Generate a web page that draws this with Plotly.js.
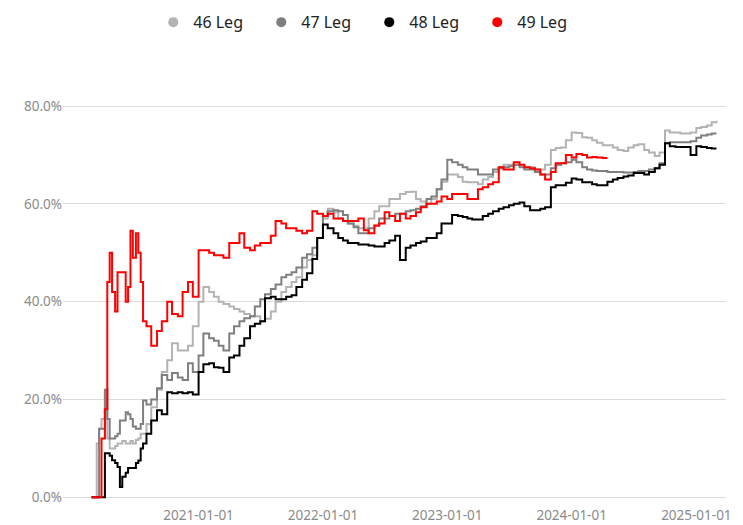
<!DOCTYPE html>
<html>
<head>
<meta charset="utf-8">
<script src="https://cdn.plot.ly/plotly-3.0.1.min.js"></script>
<style>html,body{margin:0;padding:0;background:#fff;}#chart{width:743px;height:525px;}</style>
</head>
<body>
<div id="chart"></div>
<script>
const dates = [
  "2020-02-22","2020-03-01","2020-03-08","2020-03-15","2020-03-22","2020-04-01","2020-04-08","2020-04-15","2020-04-22","2020-05-01","2020-05-08","2020-05-15","2020-05-22","2020-06-01","2020-06-08","2020-06-15","2020-06-22","2020-07-01","2020-07-08","2020-07-15","2020-07-22","2020-08-01",
  "2020-08-15","2020-09-01","2020-09-15","2020-10-01","2020-10-15","2020-11-01","2020-11-15","2020-12-01","2020-12-15",
  "2021-01-01","2021-01-15","2021-02-01","2021-02-15","2021-03-01","2021-03-15","2021-04-01","2021-04-15","2021-05-01","2021-05-15","2021-06-01","2021-06-15","2021-07-01","2021-07-15","2021-08-01","2021-08-15","2021-09-01","2021-09-15","2021-10-01","2021-10-15","2021-11-01","2021-11-15","2021-12-01","2021-12-15",
  "2022-01-01","2022-01-15","2022-02-01","2022-02-15","2022-03-01","2022-03-15","2022-04-01","2022-04-15","2022-05-01","2022-05-15","2022-06-01","2022-06-15","2022-07-01","2022-07-15","2022-08-01","2022-08-15","2022-09-01","2022-09-15","2022-10-01","2022-10-15","2022-11-01","2022-11-15","2022-12-01","2022-12-15",
  "2023-01-01","2023-01-15","2023-02-01","2023-02-15","2023-03-01","2023-03-15","2023-04-01","2023-04-15","2023-05-01","2023-05-15","2023-06-01","2023-06-15","2023-07-01","2023-07-15","2023-08-01","2023-08-15","2023-09-01","2023-09-15","2023-10-01","2023-10-15","2023-11-01","2023-11-15","2023-12-01","2023-12-15",
  "2024-01-01","2024-01-15","2024-02-01","2024-02-15","2024-03-01","2024-03-15","2024-04-01","2024-04-15","2024-05-01","2024-05-15","2024-06-01","2024-06-15","2024-07-01","2024-07-15","2024-08-01","2024-08-15","2024-09-01","2024-09-15","2024-10-01","2024-10-15","2024-11-01","2024-11-15","2024-12-01","2024-12-15",
  "2025-01-01","2025-01-15","2025-02-01","2025-02-15","2025-03-01"
];

const seriesNames = ["46 Leg","47 Leg","48 Leg","49 Leg"];
const seriesColors = ["#b3b3b3","#7f7f7f","#000000","#ff0000"];

const leg46 = [
  0,0,11,14,16,22,12,10,10,10.5,11,11,11.5,11,11,11.5,11,11.7,12,13,13,15,
  18.4,22,25.6,28,31.5,30,30,31,35,
  40,43,42,41,40,39.5,39,38.5,38,37.5,37,37,36,36.5,38,40,42,43,44,45,47,48.5,49.5,53,
  57,59,58.3,57,56.5,56,55.5,55,55,57,58.5,59.5,59.5,61,61,62,62.4,62.5,61,60.5,60,61,63,64.5,
  66,66,65.5,64.5,64.4,64.4,64,65,65.5,66.5,67.5,68,68,68,68,67.5,67.5,67,67,68,71,71.4,71.5,73,
  74.6,74.5,73.6,73.5,73,72.5,72,72,71.5,71,70.8,71.5,72,72.2,71,70.5,69.8,70.5,75,74.6,74.6,74.4,74.4,74.6,
  75.5,75.7,76,76.7,77
];
const leg47 = [
  0,0,0,14,14,22,16,12,12,12.5,13,15.7,15.7,17.4,17,16,14.5,14,14,15,19.8,19,
  20,22.3,25,24,25.4,24.5,24,27.4,25.6,
  29,33.5,32.5,32,31,30,33.5,35,36,36.6,37,39,40.5,41.5,42.6,43.5,45,45.5,46,47,49,49.7,51,53,
  57.5,58.5,58.7,58.5,57.7,56,55.2,54,54,55,55.5,57,57,57.5,58,58,58.5,58.7,59,59.5,61,61.5,63,65,
  69,68.5,68,67.5,67,67,66,66,66,67,67.3,67.5,67.7,68,67.5,67,67,66.5,66,66,67.3,68,68.3,68.5,
  69,68.5,67.5,67,66.8,66.7,66.7,66.5,66.5,66.5,66.4,66.4,66.5,66.7,66.7,67,67.3,68.3,72.4,72.6,72.6,72.6,72.6,72.8,
  73.5,74,74.2,74.4,74.4
];
const leg48 = [
  0,0,0,0,0,9,9,8.5,7.6,7,6.2,2.1,4.2,5,6,6,6,7,7.5,10,11,13,
  15.7,17.8,17,21.5,21.3,21.5,21.3,21.5,21,
  25.6,27.2,27.4,26.6,26.5,25.6,28.6,29,31,32.5,35,35.5,36,40.7,41,40.5,40.5,41,41.3,43,44.5,45.8,48.7,53,
  55.8,55,54,53,52.5,52,52,51.7,51.7,51.5,51.3,51.3,52,52.5,53.5,48.5,51,51.5,52,52.3,53,53,54,56,
  56,57.7,57.5,57.3,57,56.8,56.8,57.5,58,58.5,59,59.3,59.7,60,60.3,59.5,58.7,58.7,59,59.3,63.4,63.8,63.8,64.3,
  65.2,65,64.4,64.4,64,63.8,63.8,64.5,65,65.3,65.6,65.8,66.3,66.3,66,66.5,67.3,68,72.4,71.8,71.6,71.6,71.6,70,
  71.8,71.6,71.4,71.3,71.3
];
const leg49 = [
  0,0,0,0,12,18,44,50,42,38,46,46,46,40,43,54.5,49,54,50,44,36,35,
  31,34,36,40,37.5,37,42,44,41,
  50.5,50.5,50,49.5,49.5,49,52,52,54,51,50.5,51.5,52,52,53.5,56.5,56,55,55,54.5,54,54.5,58.5,58,
  57.5,58,57,57,56.5,56.5,56.5,57,54.6,54,55.6,56,58.3,57.5,56.5,58,57,57.5,58.3,59.3,60,60,60.5,61.5,
  61,62,62,62,61,61,63,63.4,64,64.4,67.5,67,67,68.5,68,67.5,67.3,67,66,65,66.5,68.3,68.3,70,
  69.5,70.2,70,69.5,69.6,69.5,69.4,69.4
];

const yTicks = [0,20,40,60,80];
const yTickText = ["0.0%","20.0%","40.0%","60.0%","80.0%"];
const xTicks = ["2021-01-01","2022-01-01","2023-01-01","2024-01-01","2025-01-01"];

const allValues = [leg46, leg47, leg48, leg49];
const traces = [];
allValues.forEach((vals, i) => {
  traces.push({
    type: "scatter", mode: "lines",
    x: dates.slice(0, vals.length), y: vals,
    line: {color: seriesColors[i], width: 2, shape: "hv"},
    showlegend: false, hoverinfo: "skip"
  });
});
allValues.forEach((vals, i) => {
  traces.push({
    type: "scatter", mode: "markers",
    x: [null], y: [null], name: seriesNames[i],
    marker: {color: seriesColors[i], size: 10, symbol: "circle"},
    showlegend: true
  });
});

const layout = {
  width: 743, height: 525,
  paper_bgcolor: "#fff", plot_bgcolor: "#fff",
  margin: {l: 63, r: 17, t: 90, b: 20},
  font: {family: "Noto Sans, sans-serif", color: "#999"},
  showlegend: true,
  legend: {
    orientation: "h", xref: "container", yref: "container",
    x: 0.497, xanchor: "center", y: 0.99, yanchor: "top",
    font: {size: 16, color: "#222", family: "Noto Sans, sans-serif"},
    itemwidth: 30, entrywidth: 63, entrywidthmode: "pixels"
  },
  xaxis: {
    type: "date", range: ["2019-11-30", "2025-03-29"],
    tickvals: xTicks, tickformat: "%Y-%m-%d",
    showgrid: false, zeroline: false, showline: false, ticks: "",
    tickfont: {size: 13.5, color: "#8a8a8a"}
  },
  yaxis: {
    range: [-1.574, 83.28], tickvals: yTicks, ticktext: yTickText,
    tickmode: "array",
    showgrid: true, gridcolor: "#dcdcdc", gridwidth: 1,
    zeroline: false, showline: false, ticks: "",
    tickfont: {size: 13.5, color: "#8a8a8a"}
  }
};

Plotly.newPlot("chart", traces, layout, {displayModeBar: false, staticPlot: true});
</script>
</body>
</html>
